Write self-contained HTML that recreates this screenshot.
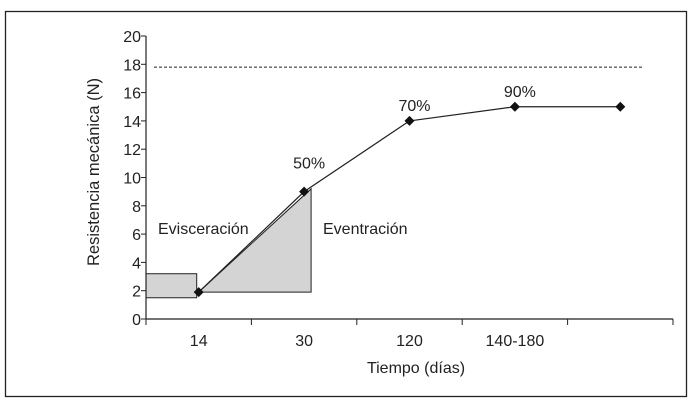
<!DOCTYPE html>
<html><head><meta charset="utf-8"><style>
body{margin:0;background:#fff;width:696px;height:409px;overflow:hidden}
svg{font-family:"Liberation Sans",sans-serif;display:block}
</style></head><body>
<svg id="chart" width="696" height="409">
<rect x="5.5" y="11.5" width="681" height="385" fill="none" stroke="#222" stroke-width="1.3"/>
<g id="g"></g>
</svg>
<script>
const categories=["14","30","120","140-180",""];
const values=[1.9,9,14,15,15];
const pctLabels=["","50%","70%","90%",""];
const yTicks=[0,2,4,6,8,10,12,14,16,18,20];
const refLine=[17.8];
const evisc=[1.5,3.2];
const eventr=[1.9,9.2];

const X0=146,X1=673,Y0=319,Y20=36;
const band=(X1-X0)/categories.length;
const x=i=>X0+band*(i+0.5);
const y=v=>Y0-(Y0-Y20)*v/20;
const g=document.getElementById('g');
const NS='http://www.w3.org/2000/svg';
function mk(t,a,p){const e=document.createElementNS(NS,t);for(const k in a)e.setAttribute(k,a[k]);(p||g).appendChild(e);return e;}

let r=mk('rect',{x:X0,y:y(evisc[1]),width:x(0)-X0-2,height:y(evisc[0])-y(evisc[1]),fill:'#d4d4d4',stroke:'#222','stroke-width':1});


const tx=x(1)+7;
let tri=mk('polygon',{points:`${x(0)},${y(eventr[0])} ${tx},${y(eventr[1])} ${tx},${y(eventr[0])}`,fill:'#d4d4d4',stroke:'#222','stroke-width':1});



let dl=mk('line',{x1:154,x2:643,y1:y(refLine[0]),y2:y(refLine[0]),stroke:'#222','stroke-dasharray':'3,2','stroke-width':1});



let ya=mk('line',{x1:X0,x2:X0,y1:Y20,y2:Y0,stroke:'#222','stroke-width':1.2});


let xa=mk('line',{x1:X0,x2:X1,y1:Y0,y2:Y0,stroke:'#222','stroke-width':1.2});


yTicks.forEach(v=>{
  mk('line',{x1:X0-5,x2:X0,y1:y(v),y2:y(v),stroke:'#222'});
  let t=mk('text',{x:X0-5,y:y(v)+6,'text-anchor':'end','font-size':16,fill:'#222'});
  t.textContent=v;
  
  
});
for(let i=0;i<=categories.length;i++){
  mk('line',{x1:X0+band*i,x2:X0+band*i,y1:Y0,y2:Y0+6,stroke:'#222'});
}
categories.forEach((c,i)=>{
  let t=mk('text',{x:x(i),y:346,'text-anchor':'middle','font-size':16,fill:'#222'});
  t.textContent=c;
  
  
});

let pl=mk('polyline',{points:values.map((v,i)=>`${x(i)},${y(v)}`).join(' '),fill:'none',stroke:'#222','stroke-width':1.2});


values.forEach((v,i)=>{
  const cx=x(i),cy=y(v);
  let m=mk('polygon',{points:`${cx},${cy-5} ${cx+5},${cy} ${cx},${cy+5} ${cx-5},${cy}`,fill:'#111'});
  
  
  if(pctLabels[i]){
    let t=mk('text',{x:cx+5,y:cy-(i===1?23:10),'text-anchor':'middle','font-size':16,fill:'#222'});
    t.textContent=pctLabels[i];
    
    
  }
});

let a=mk('text',{x:158,y:234,'font-size':16,fill:'#222'});a.textContent='Evisceración';


let b=mk('text',{x:323,y:234,'font-size':16,fill:'#222'});b.textContent='Eventración';


let xt=mk('text',{x:416,y:373,'text-anchor':'middle','font-size':16,fill:'#222'});xt.textContent='Tiempo (días)';


let yt=mk('text',{x:0,y:0,'text-anchor':'middle','font-size':16.5,fill:'#222',transform:'translate(99,172) rotate(-90)'});yt.textContent='Resistencia mecánica (N)';


</script>
</body></html>
